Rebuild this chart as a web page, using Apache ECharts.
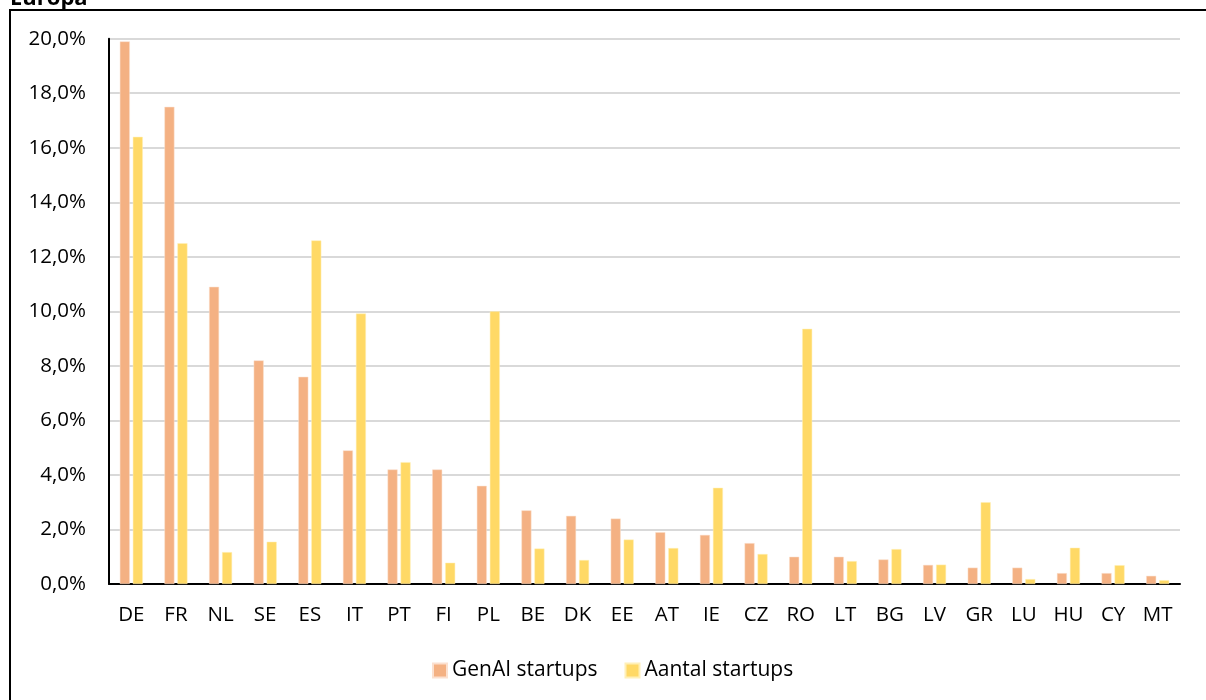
<!DOCTYPE html>
<html>
<head>
<meta charset="utf-8">
<script src="https://cdn.jsdelivr.net/npm/echarts@6/dist/echarts.min.js"></script>
<style>
html,body{margin:0;padding:0;background:#fff;}
#chart{width:1206px;height:700px;}
</style>
</head>
<body>
<div id="chart"></div>
<script>
const categories = ['DE','FR','NL','SE','ES','IT','PT','FI','PL','BE','DK','EE','AT','IE','CZ','RO','LT','BG','LV','GR','LU','HU','CY','MT'];
const genAI = [19.9,17.5,10.9,8.2,7.6,4.9,4.2,4.2,3.6,2.7,2.5,2.4,1.9,1.8,1.5,1.0,1.0,0.9,0.7,0.6,0.6,0.4,0.4,0.3];
const aantal = [16.4,12.5,1.17,1.55,12.6,9.92,4.47,0.78,10.0,1.30,0.88,1.63,1.32,3.53,1.10,9.36,0.84,1.28,0.71,3.0,0.18,1.33,0.69,0.14];
const seriesNames = ['GenAI startups','Aantal startups'];
const title = 'Europa';
const FONT = '"Open Sans", sans-serif';

const chart = echarts.init(document.getElementById('chart'));
chart.setOption({
  animation:false,
  backgroundColor:'#fff',
  graphic:[
    {type:'rect', shape:{x:10,y:10,width:1400,height:900}, style:{fill:'none',stroke:'#000',lineWidth:2}, z:100},
    {type:'text', left:10, top:-12, style:{text:title, font:'bold 22px '+FONT, fill:'#000'}, z:100}
  ],
  grid:{left:109,right:26,top:38.7,bottom:116,containLabel:false},
  legend:{
    bottom:14, left:427,
    itemWidth:14,itemHeight:14,itemGap:27,
    icon:'rect',
    textStyle:{fontFamily:FONT,fontSize:21,color:'#000'},
    data:seriesNames
  },
  xAxis:{
    type:'category',
    data:categories,
    axisLine:{lineStyle:{color:'#000',width:2}},
    axisTick:{show:false},
    axisLabel:{fontFamily:FONT,fontSize:20.5,color:'#000',margin:21,interval:0}
  },
  yAxis:{
    type:'value',min:0,max:20,interval:2,
    axisLine:{show:true,lineStyle:{color:'#000',width:2}},
    axisTick:{show:false},
    splitLine:{lineStyle:{color:'#d9d9d9',width:2}},
    axisLabel:{fontFamily:FONT,fontSize:20.5,color:'#000',margin:23,
      formatter:v=>v.toFixed(1).replace('.',',')+'%'}
  },
  series:[
    {name:seriesNames[0],type:'bar',data:genAI,barWidth:10,barGap:'30%',
     itemStyle:{color:'#F4B183',borderColor:'#FBE0CF',borderWidth:0.5}},
    {name:seriesNames[1],type:'bar',data:aantal,barWidth:10,barGap:'30%',
     itemStyle:{color:'#FFD966',borderColor:'#FFF0B8',borderWidth:0.5}}
  ]
});
</script>
</body>
</html>
